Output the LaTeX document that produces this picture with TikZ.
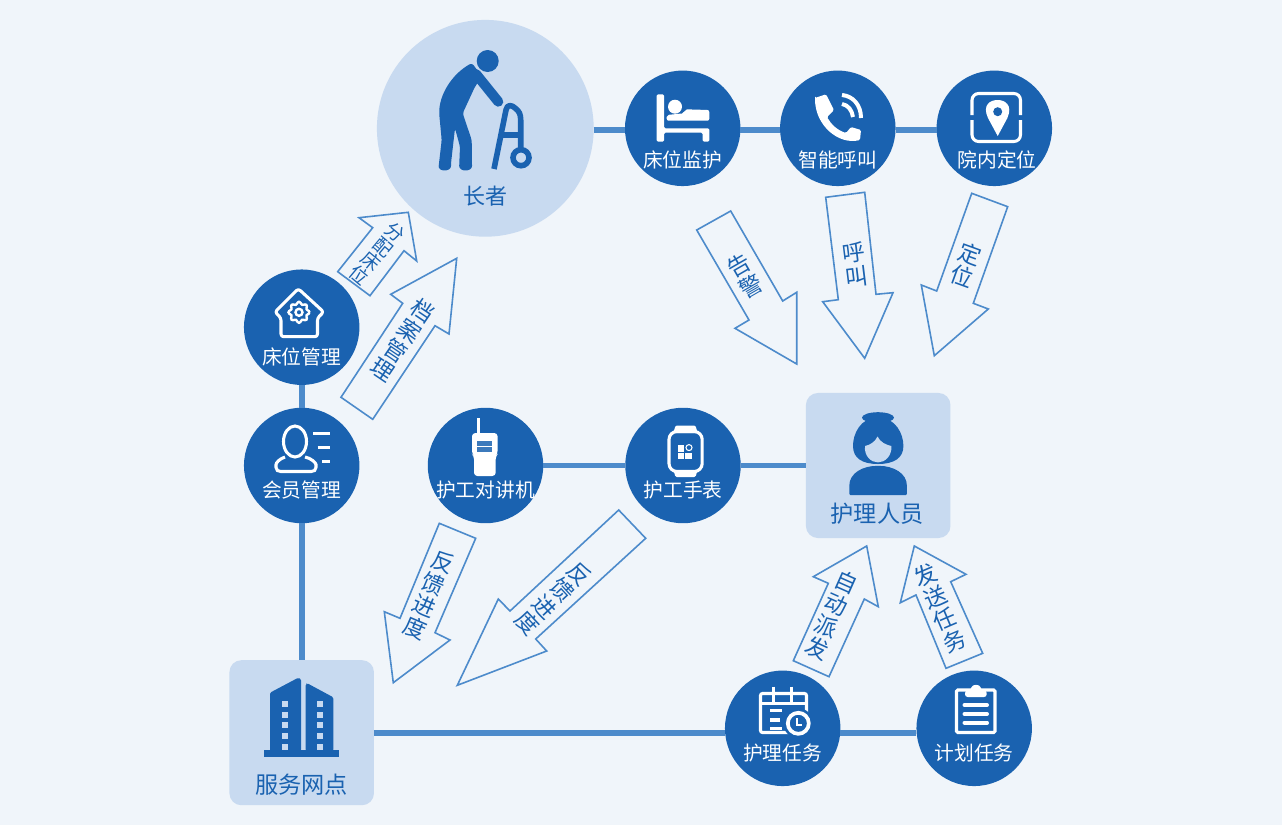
\documentclass[tikz,border=0pt]{standalone}
\usepackage{fontspec}
\setmainfont{Noto Sans CJK SC}
\usepackage{xcolor}
\usetikzlibrary{positioning}
\definecolor{pagebg}{HTML}{F0F5FA}
\definecolor{deepblue}{HTML}{1A62B0}
\definecolor{paleblue}{HTML}{C8DAF0}
\definecolor{linkblue}{HTML}{4D8BCB}
\begin{document}
\begin{tikzpicture}[x=0.75pt,y=-0.75pt,
  hub/.style={circle,fill=deepblue,minimum size=86.6pt,inner sep=0pt,outer sep=0pt},
  bigcircle/.style={circle,fill=paleblue,minimum size=162.6pt,inner sep=0pt,outer sep=0pt},
  panel/.style={rectangle,rounded corners=9pt,fill=paleblue,minimum width=108.4pt,minimum height=108.8pt,inner sep=0pt,outer sep=0pt},
  hubtext/.style={text=white,font=\fontsize{14.8}{16}\selectfont,inner sep=0pt},
  paneltext/.style={text=deepblue,font=\fontsize{17.4}{19}\selectfont,inner sep=0pt},
  link/.style={draw=linkblue,line width=4.2pt},
  flow/.style={draw=linkblue,line width=1.2pt,line join=miter,fill=none},
  flowtext/.style={text=deepblue,align=center,inner sep=0pt,font=\fontsize{17}{18}\selectfont},
  flowsmall/.style={text=deepblue,align=center,inner sep=0pt,font=\fontsize{14}{14}\selectfont},
  wline/.style={draw=white,line width=2.3pt,fill=none},
  bline/.style={draw=deepblue,line width=4.2pt,fill=none}]
\useasboundingbox (0,0) rectangle (1282,825);
\fill[pagebg] (0,0) rectangle (1282,825);

\node[bigcircle] (elder) at (485.3,128.3) {};
\node[hub] (bedcare) at (682.7,128.3) {};
\node[hub] (callhub) at (837.8,128.3) {};
\node[hub] (locate) at (994.3,128.3) {};
\node[hub] (bedadmin) at (301.7,327.2) {};
\node[hub] (member) at (301.7,465.5) {};
\node[hub] (radio) at (485.5,465.5) {};
\node[hub] (watch) at (683,465.5) {};
\node[panel] (nurse) at (878.2,465.5) {};
\node[panel] (service) at (301.7,732.7) {};
\node[hub] (caretask) at (782.7,728.3) {};
\node[hub] (plantask) at (974.2,728.3) {};

\draw[link] ([yshift=-1.3pt]elder.east) -- ([yshift=-1.3pt]bedcare.west);
\draw[link] ([yshift=-1.3pt]bedcare.east) -- ([yshift=-1.3pt]callhub.west);
\draw[link] ([yshift=-1.3pt]callhub.east) -- ([yshift=-1.3pt]locate.west);
\draw[link] (bedadmin) -- (member);
\draw[link] (member) -- (service);
\draw[link] (radio) -- (watch);
\draw[link] (watch) -- (nurse);
\draw[link] (service.east) -- ([yshift=-3.3pt]caretask.west);
\draw[link] ([yshift=-3.3pt]caretask.east) -- ([yshift=-3.3pt]plantask.west);

\node[paneltext,font=\fontsize{16.5}{18}\selectfont] (eldertext) at (485.5,196) {长者};
\node[hubtext] (bedcaretext) at (682.7,160) {床位监护};
\node[hubtext] (calltext) at (837.8,160) {智能呼叫};
\node[hubtext] (locatetext) at (997,160) {院内定位};
\node[hubtext] (bedadmintext) at (301.7,357) {床位管理};
\node[hubtext] (membertext) at (301.7,489.5) {会员管理};
\node[hubtext] (radiotext) at (485.5,490.5) {护工对讲机};
\node[hubtext] (watchtext) at (683,490.5) {护工手表};
\node[paneltext] (nursetext) at (877,513.5) {护理人员};
\node[paneltext] (servicetext) at (301.7,784.5) {服务网点};
\node[hubtext] (caretasktext) at (782.7,753) {护理任务};
\node[hubtext] (plantasktext) at (974.2,753) {计划任务};

% block arrows
\draw[flow] (696.7,230) -- (730.7,211) -- (782.7,301) -- (796.7,292.3) -- (796.7,364) -- (735,328.3) -- (749,320) -- cycle;
\draw[flow] (825.7,197.3) -- (864.7,192.3) -- (876,294.3) -- (893,292.7) -- (864.7,358.3) -- (822.7,301.7) -- (838.3,299.7) -- cycle;
\draw[flow] (971.7,193.3) -- (1007.7,206.7) -- (973.3,303.3) -- (988.3,309) -- (934.3,355.7) -- (921.3,285) -- (936.7,291) -- cycle;
\draw[flow] (337.7,271.7) -- (370,295.7) -- (404,250.7) -- (416.7,261) -- (408.3,212.3) -- (359,217.7) -- (372.7,227.7) -- cycle;
\draw[flow] (341,397.3) -- (372.7,419.3) -- (435,325.7) -- (449,334) -- (456.7,258.3) -- (390.7,294.3) -- (402.7,303.3) -- cycle;
\draw[flow] (439.3,523.3) -- (475.7,538.3) -- (435,632.7) -- (450,640) -- (393.3,682.7) -- (384.3,611.7) -- (400,618.3) -- cycle;
\draw[flow] (618.7,510) -- (645.7,538.3) -- (535.7,639) -- (546.7,651) -- (457.3,685.3) -- (498.3,599) -- (510,611) -- cycle;
\draw[flow] (793.3,660.7) -- (829,676.7) -- (864.3,599) -- (878.3,606.7) -- (866.7,546) -- (813.3,576.7) -- (828.3,583.3) -- cycle;
\draw[flow] (982.7,653.3) -- (946,668.3) -- (916,595) -- (900.3,602.7) -- (914.3,546) -- (966,574.3) -- (950.7,581.7) -- cycle;

\node[flowtext,rotate=30] (alarmtext) at (745,275.7) {告\\警};
\node[flowtext,rotate=7] (calltag) at (855,265) {呼\\叫};
\node[flowtext,rotate=-20] (postag) at (966,265) {定\\位};
\node[flowsmall,rotate=-40] (assigntext) at (377,254) {分\\配\\床\\位};
\node[flowtext,rotate=-34] (recordtext) at (403,340) {档\\案\\管\\理};
\node[flowtext,rotate=-23] (backtexta) at (429,595) {反\\馈\\进\\度};
\node[flowtext,rotate=-47] (backtextb) at (553.3,598.3) {反\\馈\\进\\度};
\node[flowtext,rotate=-24] (dispatchtext) at (831.7,615) {自\\动\\派\\发};
\node[flowtext,rotate=23] (sendtext) at (940,608) {发\\送\\任\\务};

% elder with walker
\fill[deepblue] (487.7,61) circle (11);
\fill[deepblue,rounded corners=2pt] (472,63) .. controls (452,74) and (439,95) .. (439.3,115) -- (441.7,140) -- (439,163.3) .. controls (438,172) and (451,172) .. (451,163.3) -- (455,128.3) -- (460,146.7) -- (459.3,163.3) .. controls (459,172) and (472,172) .. (472,163.3) -- (471.7,140) -- (462.7,113.3) -- (475,86.7) -- (482,76.7) -- cycle;
\draw[bline,line cap=round,line width=7.5pt] (476,74) -- (498.3,101.7);
\draw[bline,line join=round] (494,169) -- (506,110) .. controls (507,104) and (512,105) .. (515,108) .. controls (519,111) and (520.7,114) .. (520.7,120) -- (520.7,150);
\draw[bline] (502,134.7) -- (520.7,134.7);
\draw[bline] (521,157.7) circle (8);

% bed
\fill[white,rounded corners=1pt] (656.7,94.3) -- (664,94.3) -- (664,128.3) -- (709.3,128.3) -- (709.3,141.7) -- (702.7,141.7) -- (702.7,132.7) -- (664,132.7) -- (664,141.7) -- (656.7,141.7) -- cycle;
\fill[white] (675,106.7) circle (7);
\fill[white,rounded corners=1.5pt] (685,109.3) -- (709.3,110) -- (709.3,120.7) -- (666.7,120.7) -- (666.7,115) -- (684,113.3) -- cycle;

% phone
\fill[white,rounded corners=1pt] (815,98) -- (826,94.3) -- (834,110) -- (827,117) .. controls (831,124) and (837,130) .. (846,133) -- (851,127) -- (861,130) -- (860,140) .. controls (838,145) and (815,125) .. (815,98) -- cycle;
\draw[wline,line width=3pt] (842,95) .. controls (853,96) and (861,105) .. (861,118);
\draw[wline,line width=3pt] (842,104) .. controls (848,105) and (852,110) .. (853,117);

% location frame
\draw[wline,rounded corners=5pt] (972,115) -- (972,93.5) -- (1020.5,93.5) -- (1020.5,115);
\draw[wline,rounded corners=5pt] (972,120) -- (972,141.5) -- (1020.5,141.5) -- (1020.5,120);
\fill[white] (997.7,136) -- (988,118) .. controls (982,105) and (990,100) .. (997.7,100) .. controls (1005,100) and (1013,105) .. (1007.4,118) -- cycle;
\fill[deepblue] (997.7,111.7) circle (4.5);

% house with gear
\draw[wline,line join=round,rounded corners=2pt] (281,336.7) -- (281,318) -- (275,312) -- (298.3,288.7) -- (323.7,312) -- (317.5,318) -- (317.5,336.7) -- cycle;
\draw[wline,line width=1.8pt] plot[domain=0:360,samples=49,smooth] ({299+(9.3+1.2*cos(8*\x))*cos(\x)},{312.3+(9.3+1.2*cos(8*\x))*sin(\x)});
\draw[wline,line width=1.8pt] (299,312.3) circle (3.5);

% member
\draw[wline,rounded corners=1pt] (285,457) .. controls (279,459) and (276,463) .. (276,466) .. controls (276,470) and (278,471.5) .. (282,471.5) -- (310,471.5) .. controls (314,471.5) and (316,470) .. (316,466) .. controls (316,463) and (311,458) .. (305,457);
\fill[deepblue] (295,441.5) ellipse (11.5 and 16.5);
\draw[wline] (295,441.5) ellipse (11.5 and 15.5);
\draw[wline] (313.3,433.3) -- (330,433.3);
\draw[wline] (317.7,447.3) -- (330,447.3);
\draw[wline] (322.3,461.3) -- (330,461.3);

% radio
\fill[white] (477.2,418.3) rectangle (480,434);
\fill[white,rounded corners=2.5pt] (472,433) -- (497.6,433) -- (497.6,454) -- (495.7,456) -- (495.7,476) -- (474,476) -- (474,456) -- (472,454) -- cycle;
\fill[deepblue!85!white] (477,441) rectangle (491.7,452);
\draw[white,line width=0.5pt] (477,446) -- (491.7,446);

% watch
\fill[white,rounded corners=1pt] (673.4,433) -- (675.5,425.5) -- (695.5,425.5) -- (697.6,433) -- cycle;
\fill[white,rounded corners=1pt] (673.4,470) -- (675.5,477) -- (695.5,477) -- (697.6,470) -- cycle;
\draw[wline,rounded corners=6pt] (669,431.5) rectangle (702.2,471.5);
\fill[white] (678,445) rectangle (683.8,451.5);
\fill[white] (678,453) rectangle (683.8,459);
\fill[white] (685,453) rectangle (692,459);
\draw[white,line width=0.8pt] (689,447.6) circle (3);

% nurse
\fill[deepblue] (878,417.6) ellipse (16 and 5.4);
\fill[deepblue] (878,417) .. controls (860,418) and (853,434) .. (853,446) .. controls (853,458) and (862,464) .. (878,464) .. controls (894,464) and (903.4,458) .. (903.4,446) .. controls (903.4,434) and (896,418) .. (878,417) -- cycle;
\fill[paleblue] (877.5,436.5) .. controls (875,442) and (870,445) .. (865,446) .. controls (864,456) and (871,462.4) .. (878,462.4) .. controls (885,462.4) and (892,456) .. (891.4,446) .. controls (886,445) and (880,442) .. (877.5,436.5) -- cycle;
\fill[deepblue,rounded corners=1pt] (849.3,495.2) -- (849.3,487) .. controls (849.3,473) and (863,465.9) .. (878,465.9) .. controls (893,465.9) and (906.9,473) .. (906.9,487) -- (906.9,495.2) -- cycle;

% building
\fill[deepblue] (264,750) rectangle (339.3,757.3);
\fill[deepblue,rounded corners=1pt] (270,692.7) -- (298.3,677.7) -- (301,679) -- (301,751) -- (270,751) -- cycle;
\fill[deepblue,rounded corners=1pt] (305.7,684) -- (307.3,683.3) -- (333.3,697.3) -- (333.3,751) -- (305.7,751) -- cycle;
\foreach \rowy in {700.7,711.5,722.4,733.3,743.8} {
  \fill[paleblue] (281.7,\rowy) rectangle +(6,6);
  \fill[paleblue] (316.7,\rowy) rectangle +(6,6);
}

% calendar
\draw[wline,rounded corners=1.5pt] (760.5,693.5) rectangle (806.5,732.5);
\draw[wline] (760.5,703.3) -- (806.5,703.3);
\draw[wline] (773.3,686.7) -- (773.3,703.3);
\draw[wline] (791.7,686.7) -- (791.7,703.3);
\draw[wline] (770,710.7) -- (781.7,710.7);
\draw[wline] (770,720) -- (780,720);
\draw[wline] (770,728.3) -- (781.7,728.3);
\fill[deepblue] (798.3,723.3) circle (15);
\draw[wline,line width=2.8pt] (798.3,723.3) circle (10.5);
\draw[wline,line width=1.5pt] (796.7,718) -- (796.7,724.5) -- (802,724.5);

% clipboard
\draw[wline,rounded corners=1pt] (956.5,690) rectangle (995,732.5);
\fill[white,rounded corners=2pt] (965,697) -- (965,690.5) -- (971,690) .. controls (972,684) and (980,684) .. (981,690) -- (986.7,690.5) -- (986.7,697) -- cycle;
\draw[wline,line width=3pt,line cap=round] (964.5,705) -- (987,705);
\draw[wline,line width=3pt,line cap=round] (964.5,714) -- (987,714);
\draw[wline,line width=3pt,line cap=round] (964.5,722.7) -- (987,722.7);
\end{tikzpicture}
\end{document}
